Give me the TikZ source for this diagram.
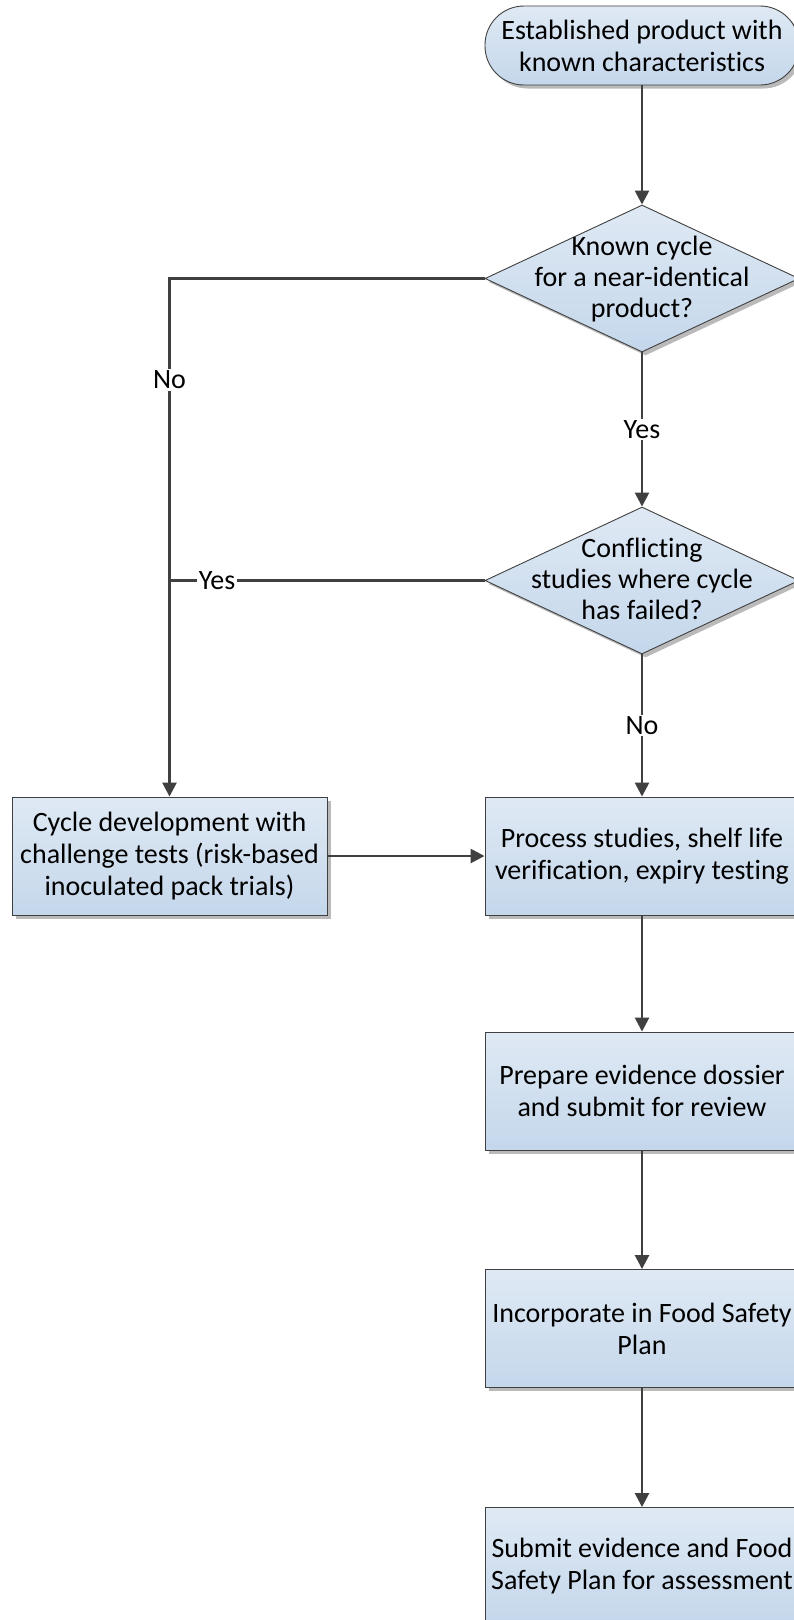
\documentclass[tikz,border=0pt]{standalone}
\usepackage{fontspec}
\setmainfont{Carlito}[Ligatures=NoCommon]
\usetikzlibrary{shapes.geometric,arrows.meta,shadows}
\definecolor{topc}{RGB}{223,233,244}
\definecolor{botc}{RGB}{196,215,235}
\definecolor{edge}{RGB}{64,64,64}
\tikzset{
  base/.style={draw=edge, line width=0.9pt, top color=topc, bottom color=botc,
    drop shadow={shadow xshift=3.5pt, shadow yshift=-3.5pt, fill=black!60, opacity=0.45},
    font=\fontsize{28}{32}\selectfont, align=center, inner sep=0pt},
  procbox/.style={base, rectangle, minimum width=314pt, minimum height=118pt},
  termbox/.style={base, rectangle, rounded corners=39pt, minimum width=314pt, minimum height=79pt},
  decbox/.style={base, diamond, minimum width=314pt, minimum height=147pt},
  txt/.style={font=\fontsize{28}{31}\selectfont, align=center, inner sep=0pt},
  conn/.style={draw=edge, line width=2.6pt, -{Triangle[length=14pt,width=14pt]}},
  plain/.style={draw=edge, line width=2.6pt},
  lbl/.style={fill=white, inner sep=1.5pt, font=\fontsize{28}{30}\selectfont}
}
\begin{document}
\begin{tikzpicture}[x=1pt,y=-1pt]
\useasboundingbox (0,0) rectangle (794,1620);
\fill[white] (0,0) rectangle (794,1620);
\node[termbox] (term) at (642,45.5) {Established product with\\known characteristics};
\node[decbox] (d1) at (642,278.5) {};
\node[txt] (d1t) at (642,279) {Known cycle\\for a near-identical\\product?};
\node[decbox] (d2) at (642,580.5) {};
\node[txt] (d2t) at (642,579) {Conflicting\\studies where cycle\\has failed?};
\node[procbox] (proc) at (642,856) {Process studies, shelf life\\verification, expiry testing};
\node[procbox, minimum width=315pt] (left) at (169.5,856) {Cycle development with\\challenge tests (risk-based\\inoculated pack trials)};
\node[procbox] (dossier) at (642,1091) {Prepare evidence dossier\\and submit for review};
\node[procbox] (fsp) at (642,1328.5) {Incorporate in Food Safety\\Plan};
\node[procbox] (submit) at (642,1566.5) {Submit evidence and Food\\Safety Plan for assessment};

\coordinate (c1) at (left.north |- d1.west);
\coordinate (c2) at (left.north |- d2.west);

\draw[conn] (term.south) -- (d1.north);
\draw[conn] (d1.south) -- node[lbl] {Yes} (d2.north);
\draw[conn] (d2.south) -- node[lbl] {No} (proc.north);
\draw[conn] (d1.west) -- (c1) -- node[lbl, pos=0.196] {No} (left.north);
\draw[plain] (d2.west) -- node[lbl, pos=0.849] {Yes} (c2);
\draw[conn] (left.east) -- (proc.west);
\draw[conn] (proc.south) -- (dossier.north);
\draw[conn] (dossier.south) -- (fsp.north);
\draw[conn] (fsp.south) -- (submit.north);
\end{tikzpicture}
\end{document}
